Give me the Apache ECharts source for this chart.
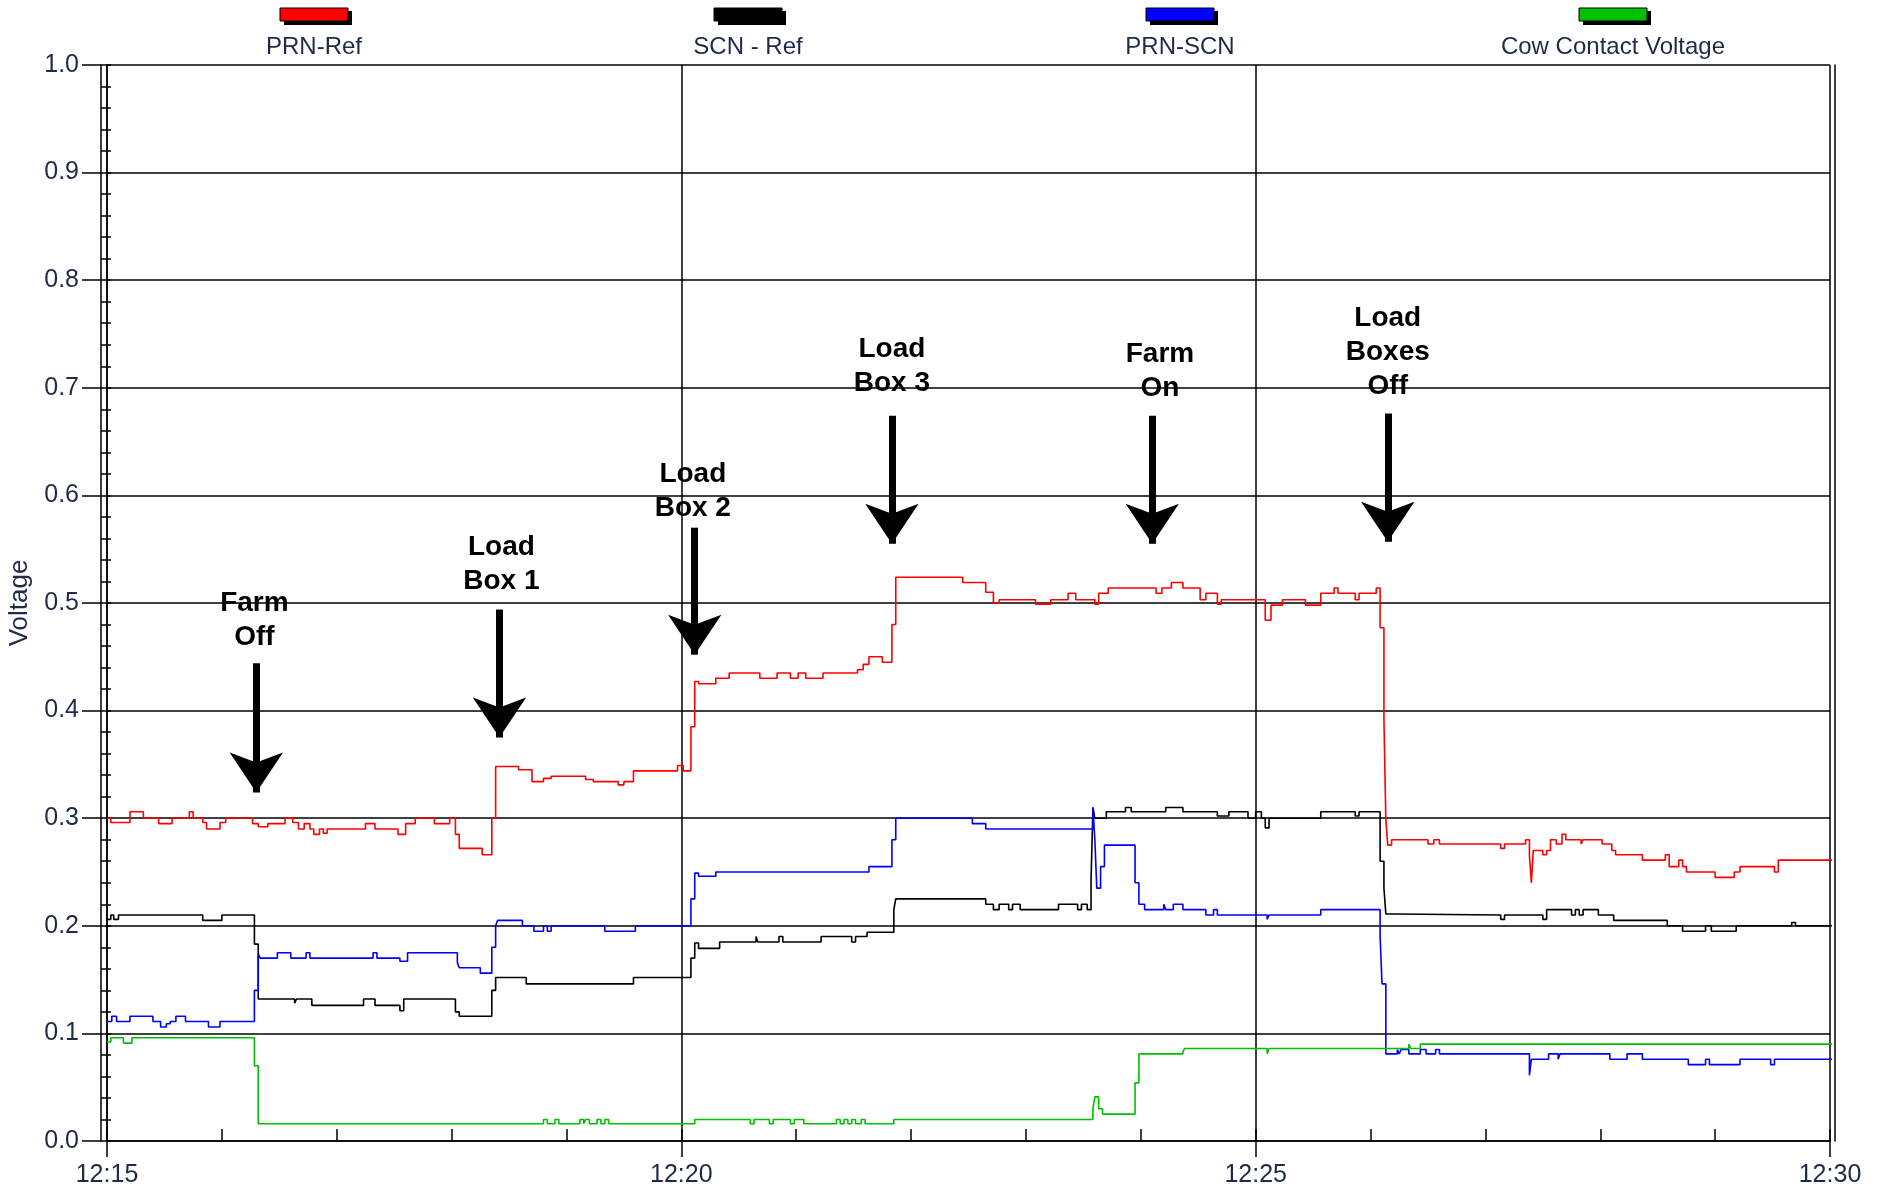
<!DOCTYPE html>
<html>
<head>
<meta charset="utf-8">
<title>Voltage</title>
<script src="https://cdn.jsdelivr.net/npm/echarts@6/dist/echarts.min.js"></script>
<style>
html,body{margin:0;padding:0;background:#fff;}
#chart{width:1881px;height:1191px;}
</style>
</head>
<body>
<div id="chart"></div>
<script>
// readings: [seconds after 12:15, volts], each point is where the value changes
var prnRef = [[0,0.300],[2,0.296],[12,0.306],[19,0.300],[27,0.295],[34,0.300],[43,0.306],[45,0.300],[50,0.296],[52,0.290],[59,0.296],[62,0.300],[76,0.295],[79,0.292],[84,0.295],[93,0.300],[97,0.296],[100,0.290],[103,0.295],[106,0.290],[108,0.285],[111,0.290],[113,0.286],[115,0.290],[135,0.295],[140,0.290],[152,0.285],[156,0.295],[161,0.300],[171,0.295],[179,0.300],[182,0.285],[184,0.272],[196,0.266],[201,0.300],[203,0.348],[215,0.345],[222,0.334],[228,0.337],[232,0.339],[250,0.336],[254,0.334],[267,0.331],[270,0.334],[275,0.344],[298,0.349],[301,0.344],[305,0.385],[307,0.427],[309,0.425],[318,0.430],[325,0.435],[341,0.430],[350,0.435],[357,0.430],[361,0.435],[365,0.430],[374,0.435],[392,0.438],[395,0.443],[398,0.450],[405,0.445],[410,0.480],[412,0.524],[447,0.519],[459,0.510],[463,0.500],[466,0.503],[485,0.499],[493,0.503],[502,0.509],[506,0.503],[516,0.499],[518,0.509],[523,0.514],[548,0.509],[551,0.514],[556,0.519],[562,0.514],[571,0.503],[574,0.509],[580,0.499],[582,0.503],[605,0.484],[608,0.498],[614,0.503],[626,0.498],[634,0.509],[641,0.514],[643,0.509],[652,0.503],[654,0.509],[663,0.514],[665,0.477],[667,0.392],[668,0.298],[669,0.275],[671,0.280],[690,0.276],[693,0.280],[696,0.276],[728,0.272],[730,0.276],[741,0.280],[743,0.265],[744,0.240],[745,0.270],[750,0.266],[752,0.270],[754,0.280],[757,0.276],[760,0.285],[762,0.280],[770,0.276],[771,0.280],[781,0.276],[786,0.270],[788,0.266],[802,0.261],[814,0.266],[816,0.255],[821,0.261],[823,0.255],[825,0.250],[840,0.245],[850,0.250],[853,0.255],[871,0.250],[873,0.261],[902,0.261]];

var scnRef = [[0,0.206],[2,0.210],[3.5,0.206],[6,0.210],[50,0.205],[60,0.210],[77,0.183],[79,0.132],[98,0.128],[99,0.132],[107,0.126],[134,0.132],[140,0.126],[153,0.121],[155,0.132],[182,0.120],[184,0.116],[201,0.140],[203,0.152],[219,0.146],[275,0.152],[305,0.170],[307,0.184],[309,0.179],[320,0.185],[339,0.190],[340,0.185],[351,0.190],[353,0.185],[373,0.190],[389,0.185],[391,0.190],[397,0.194],[411,0.215],[412,0.225],[459,0.220],[463,0.215],[466,0.220],[471,0.215],[473,0.220],[477,0.215],[497,0.220],[507,0.215],[509,0.220],[512,0.215],[514,0.242],[515,0.310],[516,0.300],[522,0.306],[532,0.310],[535,0.306],[553,0.310],[562,0.306],[580,0.302],[586,0.306],[596,0.300],[600,0.306],[603,0.300],[605,0.291],[607,0.300],[634,0.306],[652,0.302],[654,0.306],[665,0.260],[667,0.235],[668,0.211],[673,0.210],[728,0.206],[730,0.210],[750,0.206],[752,0.215],[765,0.210],[767,0.215],[769,0.210],[771,0.215],[779,0.210],[787,0.205],[815,0.200],[823,0.195],[835,0.200],[838,0.195],[851,0.200],[880,0.203],[882,0.200],[902,0.200]];

var prnScn = [[0,0.111],[2.5,0.116],[5,0.111],[12,0.116],[24,0.111],[28,0.106],[31,0.109],[33,0.111],[36,0.116],[41,0.111],[53,0.106],[59,0.111],[77,0.140],[79,0.174],[80,0.170],[89,0.175],[96,0.170],[104,0.175],[106,0.170],[139,0.175],[141,0.170],[153,0.167],[157,0.175],[183,0.166],[184,0.161],[195,0.156],[201,0.180],[203,0.200],[204,0.205],[217,0.200],[223,0.195],[228,0.200],[230,0.195],[232,0.200],[260,0.195],[276,0.200],[305,0.225],[307,0.249],[309,0.246],[318,0.250],[398,0.255],[410,0.280],[412,0.300],[452,0.295],[459,0.290],[515,0.310],[516,0.280],[517,0.235],[519,0.255],[521,0.275],[537,0.240],[539,0.220],[542,0.215],[552,0.220],[553,0.215],[557,0.220],[562,0.215],[574,0.210],[578,0.215],[580,0.210],[606,0.206],[607,0.210],[634,0.215],[665,0.190],[666,0.146],[668,0.081],[674,0.085],[675,0.081],[676,0.085],[680,0.081],[686,0.085],[689,0.081],[694,0.085],[696,0.081],[743,0.061],[744,0.076],[753,0.081],[758,0.076],[759,0.081],[785,0.076],[794,0.081],[802,0.076],[826,0.071],[835,0.076],[837,0.071],[853,0.076],[869,0.071],[871,0.076],[902,0.076]];

var cowContact = [[0,0.092],[2,0.096],[8.6,0.091],[13,0.096],[77,0.070],[79,0.016],[228,0.020],[230,0.016],[234,0.020],[236,0.016],[247,0.020],[249,0.016],[250,0.020],[252,0.016],[256,0.020],[258,0.016],[260,0.020],[262,0.016],[307,0.020],[336,0.016],[338,0.020],[346,0.016],[348,0.020],[357,0.016],[359,0.020],[364,0.016],[381,0.020],[383,0.016],[385,0.020],[387,0.016],[389,0.020],[391,0.016],[394,0.020],[396,0.016],[411,0.020],[515,0.030],[516,0.041],[518,0.030],[520,0.025],[537,0.054],[539,0.081],[562,0.083],[563,0.086],[606,0.081],[607,0.086],[680,0.090],[681,0.086],[686,0.090],[902,0.090]];

var seriesNames = ['PRN-Ref', 'SCN - Ref', 'PRN-SCN', 'Cow Contact Voltage'];
var seriesColors = ['#ff0000', '#000000', '#0000ff', '#00c000'];
var timeLabels = ['12:15', '12:20', '12:25', '12:30'];

// notes on the plot: [seconds, volts, text]
var noteTexts = [[77,0.484,'Farm\nOff'],[206,0.536,'Load\nBox 1'],[306,0.604,'Load\nBox 2'],[410,0.720,'Load\nBox 3'],[550,0.715,'Farm\nOn'],[669,0.733,'Load\nBoxes\nOff']];
// arrows: [seconds, volts at tail, volts at tip]
var noteArrows = [[78,0.444,0.324],[205,0.494,0.375],[307,0.570,0.452],[410,0.674,0.555],[546,0.674,0.555],[669,0.676,0.557]];

var font = "'Liberation Sans', Arial, sans-serif";
var textColor = '#1f2a48';
var headSize = 40;

var chart = echarts.init(document.getElementById('chart'));

var allData = [prnRef, scnRef, prnScn, cowContact];
var series = [];
for (var i = 0; i < allData.length; i++) {
	series.push({
		name: seriesNames[i],
		type: 'line',
		step: 'end',
		data: allData[i],
		showSymbol: false,
		clip: false,
		lineStyle: { color: seriesColors[i], width: 1.6 },
		z: 3
	});
}

// arrows pointing down at each event
var arrowLines = noteArrows.map(function (a) {
	return [{ coord: [a[0], a[1]] }, { coord: [a[0], a[2]] }];
});
series.push({
	name: 'arrows',
	type: 'line',
	data: [],
	markLine: {
		silent: true,
		symbol: ['none', 'arrow'],
		symbolSize: headSize,
		label: { show: false },
		lineStyle: { color: '#000', width: 7, type: 'solid' },
		itemStyle: { color: '#000' },
		data: arrowLines,
		animation: false
	},
	z: 5
});

series.push({
	name: 'notes',
	type: 'scatter',
	data: noteTexts,
	symbolSize: 1,
	itemStyle: { color: 'rgba(0,0,0,0)' },
	label: {
		show: true,
		position: 'inside',
		formatter: function (p) { return p.data[2]; },
		fontFamily: font,
		fontWeight: 'bold',
		fontSize: 28,
		lineHeight: 34,
		color: '#000',
		opacity: 1,
		textBorderWidth: 0,
		textBorderColor: 'transparent',
		align: 'center'
	},
	z: 6
});

// legend: coloured bar above the name
var legendX = [314, 748, 1180, 1613];
var graphic = [];
for (var j = 0; j < seriesNames.length; j++) {
	graphic.push({ type: 'rect', shape: { x: legendX[j] - 33 + 3, y: 11, width: 68, height: 14 }, style: { fill: '#000' }, z: 10 });
	graphic.push({ type: 'rect', shape: { x: legendX[j] - 34, y: 8, width: 68, height: 13 }, style: { fill: seriesColors[j], stroke: '#000', lineWidth: 1 }, z: 11 });
	graphic.push({ type: 'text', x: legendX[j], y: 47, style: { text: seriesNames[j], textAlign: 'center', textVerticalAlign: 'middle', fontSize: 24, fontFamily: font, fill: textColor }, z: 11 });
}

var option = {
	animation: false,
	backgroundColor: '#fff',
	grid: { left: 107, right: 51, top: 65, bottom: 50, outerBoundsMode: 'none', containLabel: false },
	xAxis: [{
		type: 'value', min: 0, max: 900, interval: 300, position: 'bottom',
		axisLine: { show: true, onZero: false, lineStyle: { color: '#000', width: 1.5 } },
		axisTick: { show: true, inside: false, length: 16, lineStyle: { color: '#000', width: 1.5 } },
		axisLabel: {
			show: true, margin: 22, fontSize: 25, fontFamily: font, color: textColor,
			formatter: function (v) { return timeLabels[Math.round(v / 300)] || ''; }
		},
		splitLine: { show: true, lineStyle: { color: '#000', width: 1.5 } }
	}, {
		type: 'value', min: 0, max: 900, interval: 60, position: 'bottom',
		axisLine: { show: false },
		axisTick: { show: true, inside: true, length: 12, lineStyle: { color: '#000', width: 1.5 } },
		axisLabel: { show: false },
		splitLine: { show: false }
	}],
	yAxis: [{
		type: 'value', min: 0, max: 1, interval: 0.1, position: 'left',
		name: 'Voltage', nameLocation: 'middle', nameGap: 74, nameRotate: 90,
		nameTextStyle: { fontSize: 26, fontFamily: font, color: textColor },
		axisLine: { show: true, onZero: false, lineStyle: { color: '#000', width: 1.5 } },
		axisTick: { show: true, inside: false, length: 25, lineStyle: { color: '#000', width: 1.5 } },
		axisLabel: { show: true, margin: 28, fontSize: 25, fontFamily: font, color: textColor, formatter: function (v) { return v.toFixed(1); } },
		splitLine: { show: true, lineStyle: { color: '#000', width: 1.5 } }
	}, {
		type: 'value', min: 0, max: 1, interval: 0.02, position: 'left', offset: 6,
		axisLine: { show: true, onZero: false, lineStyle: { color: '#000', width: 1.5 } },
		axisTick: { show: true, inside: true, length: 10, lineStyle: { color: '#000', width: 1.5 } },
		axisLabel: { show: false },
		splitLine: { show: false }
	}, {
		type: 'value', min: 0, max: 1, position: 'right', offset: 5,
		axisLine: { show: true, onZero: false, lineStyle: { color: '#000', width: 1.5 } },
		axisTick: { show: false },
		axisLabel: { show: false },
		splitLine: { show: false }
	}],
	graphic: graphic,
	series: series
};

chart.setOption(option);
</script>
</body>
</html>
